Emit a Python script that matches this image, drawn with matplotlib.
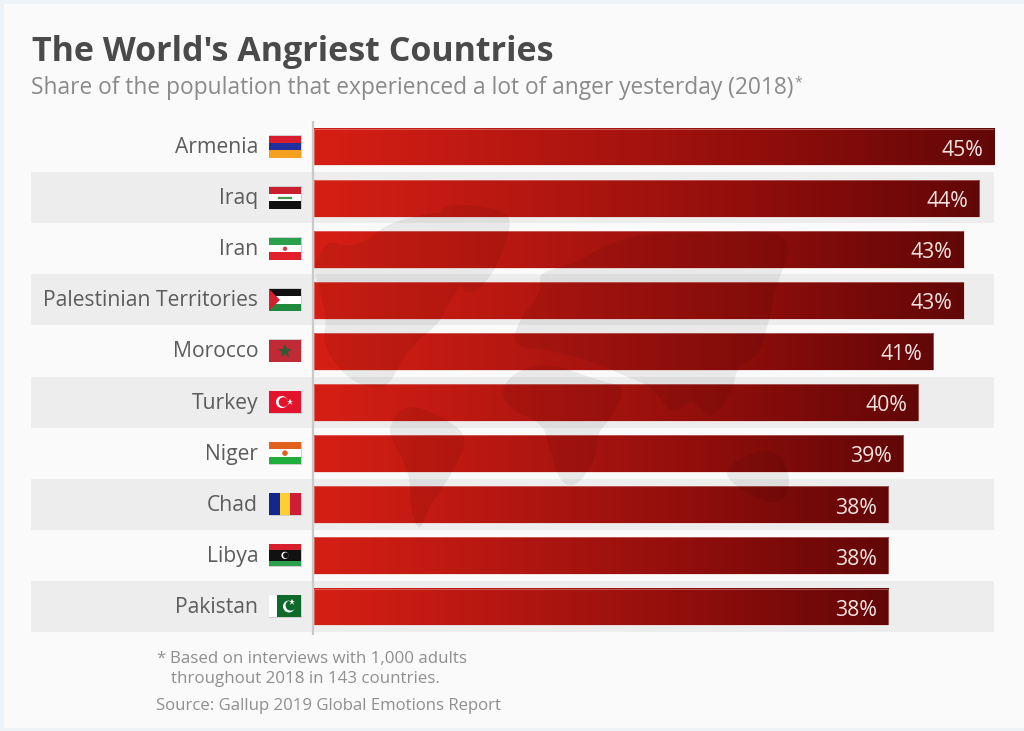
import numpy as np
import matplotlib
matplotlib.use("Agg")
import matplotlib.pyplot as plt
from matplotlib.colors import LinearSegmentedColormap
from matplotlib.patches import Polygon, Rectangle, Circle, PathPatch
from matplotlib.path import Path
from matplotlib.transforms import ScaledTranslation

# === DATA ===
countries = ["Armenia", "Iraq", "Iran", "Palestinian Territories", "Morocco",
             "Turkey", "Niger", "Chad", "Libya", "Pakistan"]
shares = [45, 44, 43, 43, 41, 40, 39, 38, 38, 38]

title = "The World's Angriest Countries"
subtitle = "Share of the population that experienced a lot of anger yesterday (2018)"
note_1 = "Based on interviews with 1,000 adults"
note_2 = "throughout 2018 in 143 countries."
source = "Source: Gallup 2019 Global Emotions Report"

plt.rcParams["font.family"] = ["Open Sans", "DejaVu Sans"]

W, H = 1024, 731
fig = plt.figure(figsize=(W / 100, H / 100), dpi=100, facecolor="#eef3f7")

# background layer in pixel coordinates
px = fig.add_axes([0, 0, 1, 1], zorder=0)
px.set_xlim(0, W)
px.set_ylim(H, 0)
px.axis("off")
px.add_patch(Rectangle((4, 4), W - 4, H - 7, fc="#fafafa", ec="none"))

# === CHART AXES ===
row_top, row_h = 121, 51.1
ax_left, ax_right = 313, 994
ax_bottom = row_top + row_h * len(countries)
ax = fig.add_axes([ax_left / W, 1 - ax_bottom / H, (ax_right - ax_left) / W, (ax_bottom - row_top) / H],
                  zorder=1)
ax.patch.set_alpha(0)
for s in ax.spines.values():
    s.set_visible(False)
ax.set_xticks([])
ax.set_yticks(range(len(countries)))
ax.set_yticklabels(countries, fontsize=15.2, color="#5c5c5c")
ax.tick_params(axis="y", length=0, pad=39.5)
for lab in ax.get_yticklabels():
    lab.set_transform(lab.get_transform() + ScaledTranslation(0, 1.5 / 100, fig.dpi_scale_trans))
ax.plot([0, 0], [-0.5, len(countries) - 0.45], color="#c9c9c9", lw=1.6, clip_on=False, zorder=2,
        solid_capstyle="butt")

# striped rows
for i in range(1, len(countries), 2):
    px.add_patch(Rectangle((31, row_top + i * row_h), ax_right - 31, row_h, fc="#ededed", ec="none"))

# === BARS ===
bar_cmap = LinearSegmentedColormap.from_list("anger", ["#d61f14", "#b41711", "#8f0e0b", "#620707"])
grad = np.linspace(0, 1, 256).reshape(1, -1)
bar_h = 0.72
for i, v in enumerate(shares):
    ax.imshow(grad, extent=(0.05, v, i + 0.01 + bar_h / 2, i + 0.01 - bar_h / 2), aspect="auto",
              cmap=bar_cmap, zorder=3, interpolation="bilinear")
    ax.add_patch(Rectangle((0.05, i + 0.01 - bar_h / 2), v - 0.05, bar_h, fc="none", ec="#e8b8b4", lw=0.5,
                           alpha=0.6, zorder=3.1))
    ax.annotate(f"{v}%", (v, i + 0.02), xytext=(-8, -2), textcoords="offset points", ha="right", va="center",
                fontsize=15.3, color="#f3e4e2", zorder=6)
ax.set_xlim(0, 45)
ax.set_ylim(len(countries) - 0.5, -0.5)

# === WORLD MAP WATERMARK (rough outlines, pixels) ===
continents = [
    [(370, 240), (387, 223), (443, 210), (467, 217), (457, 240), (467, 277), (450, 300), (440, 323),
     (410, 347), (397, 370), (387, 387), (370, 387), (350, 380), (330, 357), (323, 337), (327, 320),
     (317, 280), (313, 267), (327, 240), (347, 247)],
    [(437, 210), (457, 203), (503, 210), (513, 223), (493, 277), (467, 297), (457, 277), (453, 237)],
    [(390, 423), (407, 403), (443, 417), (470, 437), (450, 477), (427, 510), (420, 533), (410, 510),
     (410, 473), (390, 437)],
    [(500, 390), (517, 370), (550, 363), (597, 380), (627, 387), (610, 420), (597, 433), (597, 457),
     (577, 487), (560, 483), (550, 450), (543, 423), (510, 410)],
    [(513, 347), (517, 323), (543, 290), (537, 273), (577, 263), (600, 247), (643, 233), (710, 233),
     (767, 230), (793, 243), (777, 283), (767, 330), (757, 357), (737, 367), (733, 390), (710, 423),
     (693, 397), (673, 417), (653, 387), (627, 377), (597, 363), (550, 350)],
    [(723, 473), (740, 457), (777, 447), (793, 483), (777, 507), (740, 490)],
]


def smooth(pts, rounds=3):
    # corner cutting so the outlines look less angular
    pts = np.array(pts, dtype=float)
    for _ in range(rounds):
        nxt = np.roll(pts, -1, axis=0)
        pts = np.column_stack([0.75 * pts + 0.25 * nxt, 0.25 * pts + 0.75 * nxt]).reshape(-1, 2)
    return pts


map_path = Path.make_compound_path(*[Path(smooth(c)) for c in continents])
ax.add_patch(PathPatch(map_path, transform=px.transData, fc="black", ec="none", alpha=0.065, zorder=4, clip_on=False))


# === FLAGS ===
def stripes(x, y, w, h, colors):
    for k, c in enumerate(colors):
        ax.add_patch(Rectangle((x, y + k * h / len(colors)), w, h / len(colors), transform=px.transData,
                               fc=c, ec="none", zorder=5, clip_on=False))


def columns(x, y, w, h, colors, widths):
    pos = x
    for c, f in zip(colors, widths):
        ax.add_patch(Rectangle((pos, y), w * f, h, transform=px.transData, fc=c, ec="none", zorder=5, clip_on=False))
        pos += w * f


def dot(cx, cy, r, c):
    ax.add_patch(Circle((cx, cy), r, transform=px.transData, fc=c, ec="none", zorder=5.2, clip_on=False))


def star(cx, cy, ms, c, z=5.3):
    ax.plot([cx], [cy], marker="*", ms=ms, color=c, mew=0, zorder=z, transform=px.transData, clip_on=False)


flag_x, flag_w, flag_h = 269, 32, 22
for i, name in enumerate(countries):
    fy = row_top + (i + 0.5) * row_h - flag_h / 2
    cx, cy = flag_x + flag_w / 2, fy + flag_h / 2
    ax.add_patch(Rectangle((flag_x - 0.5, fy - 0.5), flag_w + 1, flag_h + 1, transform=px.transData, fc="#cfcfcf",
                           ec="none", zorder=4.9, clip_on=False))
    if name == "Armenia":
        stripes(flag_x, fy, flag_w, flag_h, ["#d81e2c", "#1f2f9e", "#f5a020"])
    elif name == "Iraq":
        stripes(flag_x, fy, flag_w, flag_h, ["#c8202f", "#ffffff", "#111111"])
        ax.plot([cx - 6, cx + 6], [cy, cy], color="#3f9a50", lw=1.6, zorder=5.2, transform=px.transData,
                clip_on=False)
    elif name == "Iran":
        stripes(flag_x, fy, flag_w, flag_h, ["#2aa04a", "#ffffff", "#e0202a"])
        dot(cx, cy, 2.2, "#d84050")
    elif name == "Palestinian Territories":
        stripes(flag_x, fy, flag_w, flag_h, ["#111111", "#ffffff", "#1f8a3c"])
        ax.add_patch(Polygon([(flag_x, fy), (flag_x + 11, cy), (flag_x, fy + flag_h)], transform=px.transData,
                             fc="#d2202f", ec="none", zorder=5.1, clip_on=False))
    elif name == "Morocco":
        stripes(flag_x, fy, flag_w, flag_h, ["#bf2a35"])
        star(cx, cy, 10, "#2f5a34")
    elif name == "Turkey":
        stripes(flag_x, fy, flag_w, flag_h, ["#e3132c"])
        dot(cx - 3, cy, 6, "white")
        dot(cx - 1.5, cy, 4.8, "#e3132c")
        star(cx + 5, cy, 5, "white")
    elif name == "Niger":
        stripes(flag_x, fy, flag_w, flag_h, ["#e0601c", "#ffffff", "#1fae3c"])
        dot(cx, cy, 2.8, "#e0601c")
    elif name == "Chad":
        columns(flag_x, fy, flag_w, flag_h, ["#14288c", "#fcd030", "#d01c34"], [1 / 3, 1 / 3, 1 / 3])
    elif name == "Libya":
        stripes(flag_x, fy, flag_w, flag_h, ["#d8202c", "#111111", "#111111", "#2aa04a"])
        dot(cx, cy, 3.6, "white")
        dot(cx + 1, cy, 2.9, "#111111")
    elif name == "Pakistan":
        columns(flag_x, fy, flag_w, flag_h, ["#ffffff", "#0d6a2a"], [0.25, 0.75])
        dot(cx + 4, cy, 6, "white")
        dot(cx + 5.8, cy - 1, 5.2, "#0d6a2a")
        star(cx + 7, cy - 4, 4.5, "white")

# === TEXT ===
px.text(32, 52, title, fontsize=24.5, fontweight="bold", color="#4a4a4a", va="center", ha="left")
px.text(31, 88, subtitle, fontsize=16.4, color="#8a8a8a", va="center", ha="left")
px.text(794, 83, "*", fontsize=10, color="#8a8a8a", va="center", ha="left")
px.text(156, 659, "*", fontsize=12.1, color="#8f8f8f", va="center", ha="left")
px.text(170, 659, note_1, fontsize=12.2, color="#8f8f8f", va="center", ha="left")
px.text(171, 679, note_2, fontsize=12.2, color="#8f8f8f", va="center", ha="left")
px.text(156, 706, source, fontsize=12.1, color="#8f8f8f", va="center", ha="left")

fig.savefig("out.png", dpi=100, facecolor=fig.get_facecolor())
